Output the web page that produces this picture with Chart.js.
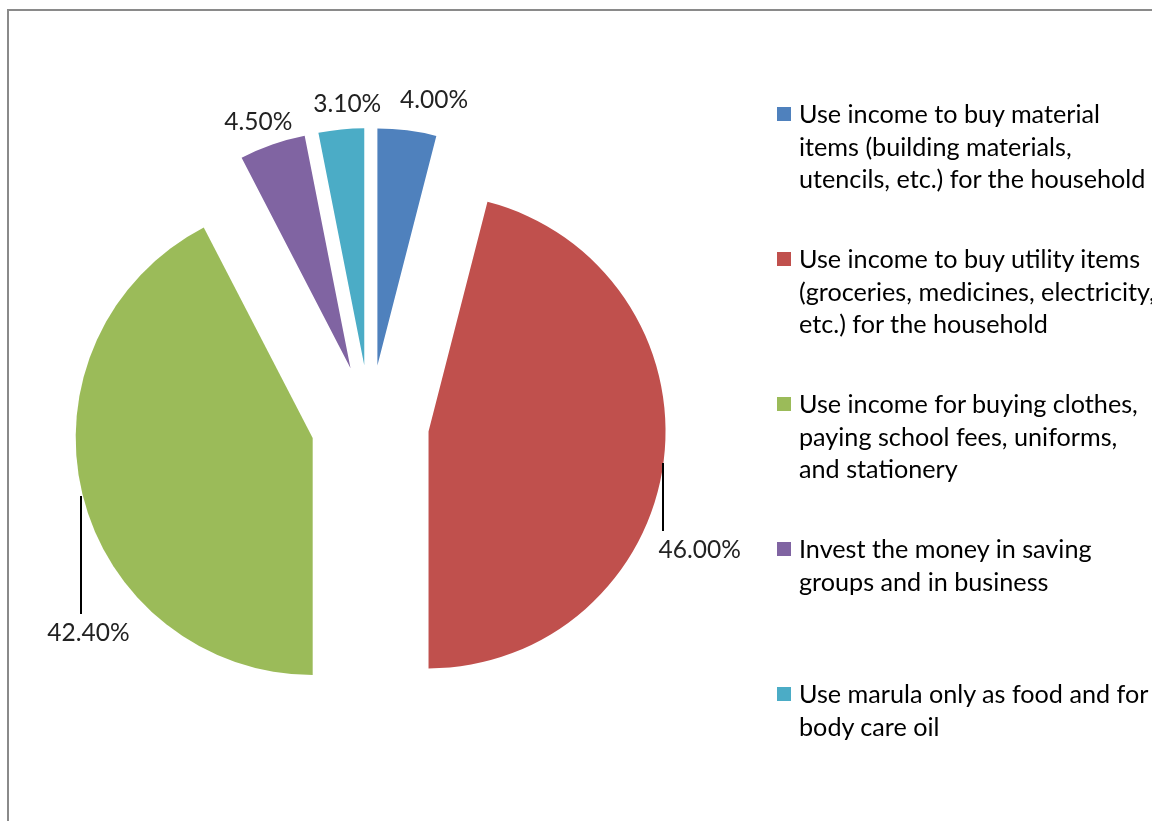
<!DOCTYPE html>
<html>
<head>
<meta charset="utf-8">
<title>Use of marula income</title>
<script src="https://cdn.jsdelivr.net/npm/chart.js@4.4.0/dist/chart.umd.min.js"></script>
<style>
    html, body { margin: 0; padding: 0; background: #fff; overflow: hidden; }
    #wrap { position: relative; width: 1152px; height: 821px; overflow: hidden; }
    #frame { position: absolute; left: 7px; top: 9px; width: 1300px; height: 1000px; border-left: 2px solid #8a8a8a; border-top: 2px solid #8a8a8a; }
    #pie { position: absolute; left: 0; top: 0; }
    #legend { position: absolute; left: 777px; top: 0; font-family: Lato, "Noto Sans", sans-serif; font-size: 25.2px; line-height: 32.5px; color: #000; }
    #legend .item { position: absolute; left: 0; white-space: nowrap; }
    #legend .box { position: absolute; left: 0; top: 10px; width: 14px; height: 14px; }
    #legend .text { position: absolute; left: 22px; top: 0; }
</style>
</head>
<body>
<div id="wrap">
    <div id="frame"></div>
    <canvas id="pie" width="1152" height="821"></canvas>
    <div id="legend"></div>
</div>
<script>
const categories = [
    ["Use income to buy material", "items (building materials,", "utencils, etc.) for the household"],
    ["Use income to buy utility items", "(groceries, medicines, electricity,", "etc.) for the household"],
    ["Use income for buying clothes,", "paying school fees, uniforms,", "and stationery"],
    ["Invest the money in saving", "groups and in business"],
    ["Use marula only as food and for", "body care oil"]
];
const shares = [4.00, 46.00, 42.40, 4.50, 3.10];
const sliceColors = ["#4F81BD", "#C0504D", "#9BBB59", "#8064A2", "#4BACC6"];

// where each percentage sits, relative to the middle of its slice's rim
const labelShift = [[27, -30], [36, 89], [6, 139], [-14, -22], [6, -25]];
const hasLeader = [false, true, true, false, false];

// pulls every slice away from the centre along its own bisector
const explodeSlices = {
    id: "explodeSlices",
    afterDatasetUpdate(chart, args) {
        const dist = chart.data.datasets[args.index].explode || 0;
        chart.getDatasetMeta(args.index).data.forEach(arc => {
            const mid = (arc.startAngle + arc.endAngle) / 2;
            arc.x += Math.cos(mid) * dist;
            arc.y += Math.sin(mid) * dist;
        });
    }
};

const sliceLabels = {
    id: "sliceLabels",
    afterDatasetsDraw(chart) {
        const ctx = chart.ctx;
        const arcs = chart.getDatasetMeta(0).data;
        ctx.save();
        ctx.font = "24.5px Lato";
        ctx.fillStyle = "#222";
        ctx.strokeStyle = "#000";
        ctx.lineWidth = 2;
        ctx.textAlign = "center";
        ctx.textBaseline = "middle";
        arcs.forEach((arc, i) => {
            const mid = (arc.startAngle + arc.endAngle) / 2;
            const rimX = arc.x + Math.cos(mid) * arc.outerRadius;
            const rimY = arc.y + Math.sin(mid) * arc.outerRadius;
            const x = rimX + labelShift[i][0];
            const y = rimY + labelShift[i][1];
            if (hasLeader[i]) {
                ctx.beginPath();
                ctx.moveTo(Math.round(rimX) - 1, rimY + 2);
                ctx.lineTo(Math.round(rimX) - 1, y - 19);
                ctx.stroke();
            }
            ctx.fillText(shares[i].toFixed(2) + "%", x, y);
        });
        ctx.restore();
    }
};

function buildLegend() {
    const legend = document.getElementById("legend");
    categories.forEach((lines, i) => {
        const item = document.createElement("div");
        item.className = "item";
        item.style.top = (97 + 145 * i) + "px";
        item.innerHTML = `<span class="box" style="background:${sliceColors[i]}"></span>` +
            `<div class="text">${lines.join("<br>")}</div>`;
        legend.appendChild(item);
    });
}

new Chart(document.getElementById("pie"), {
    type: "pie",
    data: {
        labels: categories,
        datasets: [{
            data: shares,
            backgroundColor: sliceColors,
            borderWidth: 0,
            radius: 237,
            explode: 59,
            clip: false
        }]
    },
    options: {
        responsive: false,
        animation: false,
        layout: { padding: { left: 0, right: 412, top: 27, bottom: 0 } },
        plugins: {
            legend: { display: false },
            tooltip: { enabled: false }
        }
    },
    plugins: [explodeSlices, sliceLabels]
});

buildLegend();
</script>
</body>
</html>
